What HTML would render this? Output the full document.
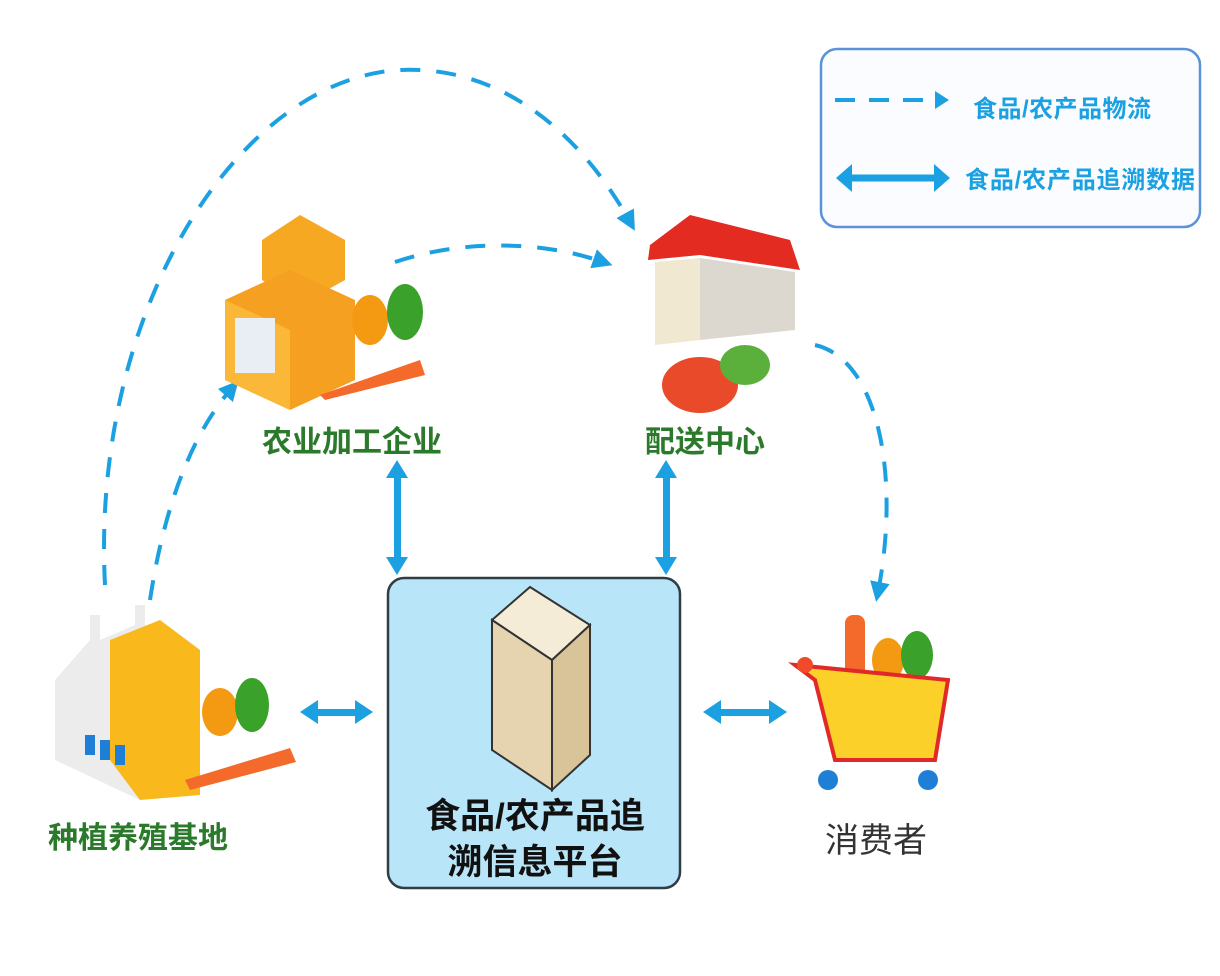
<!DOCTYPE html>
<html><head><meta charset="utf-8"><style>
body{margin:0;background:#fff;}
svg{display:block}
text{font-family:"Liberation Sans","Noto Sans CJK SC",sans-serif;}
</style></head><body>
<svg width="1220" height="976" viewBox="0 0 1220 976" xmlns="http://www.w3.org/2000/svg">
<defs>
<marker id="tri" viewBox="0 0 10 10" refX="5" refY="5" markerWidth="5" markerHeight="5" orient="auto"><path d="M0,0 L10,5 L0,10Z" fill="#1ba1e2"/></marker>
</defs>
<rect width="1220" height="976" fill="#fff"/>
<!-- legend -->
<rect x="821" y="49" width="379" height="178" rx="16" fill="#fafcff" stroke="#5b93d8" stroke-width="2.5"/>
<line x1="835" y1="100" x2="935" y2="100" stroke="#1ba1e2" stroke-width="4" stroke-dasharray="20,14"/>
<path d="M935,91 L949,100 L935,109Z" fill="#1ba1e2"/>
<text x="973" y="117" font-size="24" font-weight="bold" fill="#1ba1e2" textLength="178">食品/农产品物流</text>
<line x1="850" y1="178" x2="935" y2="178" stroke="#1ba1e2" stroke-width="7"/>
<path d="M836,178 L852,164 L852,192Z M950,178 L934,164 L934,192Z" fill="#1ba1e2"/>
<text x="965" y="188" font-size="24" font-weight="bold" fill="#1ba1e2" textLength="230">食品/农产品追溯数据</text>

<!-- dashed flows -->
<g fill="none" stroke="#1ba1e2" stroke-width="4" stroke-dasharray="20,16">
<path d="M105,585 C90,300 250,60 420,70 C520,75 590,150 630,222" marker-end="url(#tri)"/>
<path d="M150,600 C165,500 195,430 232,388" marker-end="url(#tri)"/>
<path d="M395,262 C460,240 540,240 603,262" marker-end="url(#tri)"/>
<path d="M815,345 C880,360 900,480 878,592" marker-end="url(#tri)"/>
</g>

<!-- double arrows -->
<g fill="#1ba1e2">
<rect x="394" y="474" width="7" height="88"/><path d="M397,460 L386,478 L408,478Z M397,575 L386,557 L408,557Z"/>
<rect x="663" y="474" width="7" height="88"/><path d="M666,460 L655,478 L677,478Z M666,575 L655,557 L677,557Z"/>
<rect x="314" y="709" width="45" height="7"/><path d="M300,712 L318,700 L318,724Z M373,712 L355,700 L355,724Z"/>
<rect x="717" y="709" width="55" height="7"/><path d="M703,712 L721,700 L721,724Z M787,712 L769,700 L769,724Z"/>
</g>

<!-- central box -->
<rect x="388" y="578" width="292" height="310" rx="16" fill="#b9e5f8" stroke="#2f3d44" stroke-width="2.5"/>
<g stroke="#333" stroke-width="2">
<path d="M492,620 L530,587 L590,625 L552,660Z" fill="#f5ecd8"/>
<path d="M492,620 L552,660 L552,790 L492,750Z" fill="#e6d4b0"/>
<path d="M552,660 L590,625 L590,755 L552,790Z" fill="#d9c49a"/>
</g>
<text x="535" y="828" font-size="35" font-weight="bold" fill="#111" text-anchor="middle">食品/农产品追</text>
<text x="535" y="874" font-size="35" font-weight="bold" fill="#111" text-anchor="middle">溯信息平台</text>

<!-- processing enterprise icon -->
<path d="M262,240 L300,215 L345,240 L345,280 L300,305 L262,280Z" fill="#f7a823"/>
<path d="M225,300 L290,270 L355,300 L355,380 L290,410 L225,380Z" fill="#f5a020"/>
<path d="M225,300 L290,330 L290,410 L225,380Z" fill="#fbb838"/>
<rect x="235" y="318" width="40" height="55" fill="#e8eef3"/>
<ellipse cx="370" cy="320" rx="18" ry="25" fill="#f49a12"/>
<ellipse cx="405" cy="312" rx="18" ry="28" fill="#3aa12a"/>
<path d="M320,395 L420,360 L425,375 L325,400Z" fill="#f36a2a"/>
<text x="262" y="452" font-size="30" font-weight="bold" fill="#2b7a2b">农业加工企业</text>

<!-- distribution center -->
<path d="M650,245 L690,215 L790,240 L800,270 L700,255 L648,260Z" fill="#e32b22"/>
<path d="M655,262 L700,258 L700,340 L655,345Z" fill="#f0e8d0"/>
<path d="M700,258 L795,272 L795,330 L700,340Z" fill="#dcd8d0"/>
<ellipse cx="700" cy="385" rx="38" ry="28" fill="#e84a2a"/>
<ellipse cx="745" cy="365" rx="25" ry="20" fill="#5ab03a"/>
<text x="645" y="452" font-size="30" font-weight="bold" fill="#2b7a2b">配送中心</text>

<!-- farm base -->
<path d="M55,680 L90,640 L90,615 L100,615 L100,640 L135,625 L135,605 L145,605 L145,625 L180,640 L200,650 L200,790 L140,800 L55,760Z" fill="#ececec"/>
<path d="M110,640 L160,620 L200,650 L200,795 L140,800 L110,760Z" fill="#f9b81b"/>
<rect x="85" y="735" width="10" height="20" fill="#1f7fd6"/><rect x="100" y="740" width="10" height="20" fill="#1f7fd6"/><rect x="115" y="745" width="10" height="20" fill="#1f7fd6"/>
<ellipse cx="220" cy="712" rx="18" ry="24" fill="#f49a12"/>
<ellipse cx="252" cy="705" rx="17" ry="27" fill="#3aa12a"/>
<path d="M185,780 L290,748 L296,762 L190,790Z" fill="#f36a2a"/>
<text x="48" y="848" font-size="30" font-weight="bold" fill="#2b7a2b">种植养殖基地</text>

<!-- consumer cart -->
<rect x="845" y="615" width="20" height="75" rx="8" fill="#f36a2a"/>
<ellipse cx="888" cy="660" rx="16" ry="22" fill="#f49a12"/>
<ellipse cx="917" cy="655" rx="16" ry="24" fill="#3aa12a"/>
<path d="M795,665 L815,680 L835,760 L935,760 L948,680 Z" fill="#fbd029" stroke="#e02a2a" stroke-width="4"/>
<circle cx="805" cy="665" r="8" fill="#f04a2a"/>
<circle cx="828" cy="780" r="10" fill="#1f7fd6"/><circle cx="928" cy="780" r="10" fill="#1f7fd6"/>
<text x="825" y="852" font-size="34" fill="#333">消费者</text>
</svg>
</body></html>
